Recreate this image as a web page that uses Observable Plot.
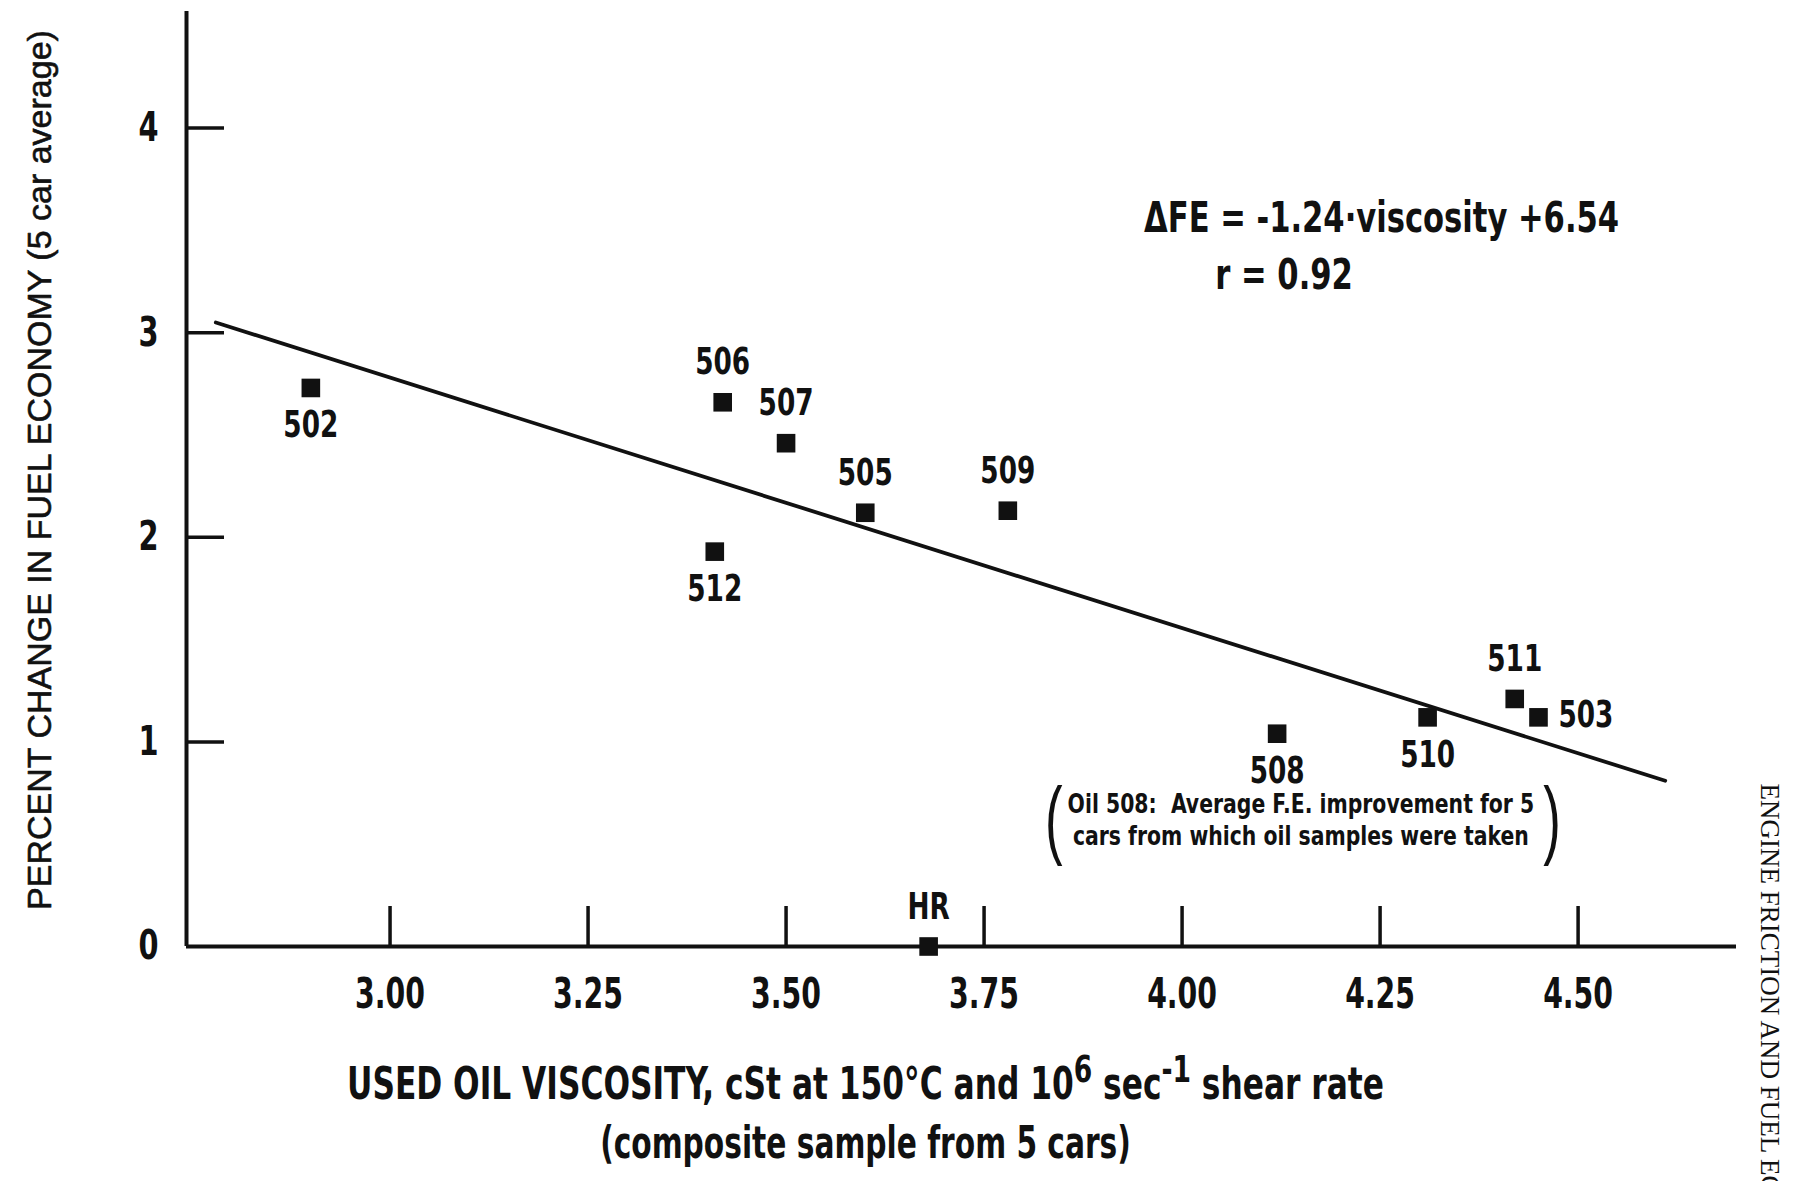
<!DOCTYPE html>
<html><head><meta charset="utf-8">
<script src="https://cdn.jsdelivr.net/npm/d3@7"></script>
<script src="https://cdn.jsdelivr.net/npm/@observablehq/plot@0.6"></script>
<style>
body{margin:0;background:#fff;}
</style></head><body><div id="chart"></div>
<script>
// ---- data ----
const oils      = ["502","506","507","505","509","512","508","510","511","503","HR"];
const viscosity = [2.90, 3.42, 3.50, 3.60, 3.78, 3.41, 4.12, 4.31, 4.42, 4.45, 3.68];
const feChange  = [2.73, 2.66, 2.46, 2.12, 2.13, 1.93, 1.04, 1.12, 1.21, 1.12, 0.00];
const fitX = [2.78, 4.61];
const fitY = [3.05, 0.81];
const xTicks = [3.00, 3.25, 3.50, 3.75, 4.00, 4.25, 4.50];
const xTickLabels = ["3.00","3.25","3.50","3.75","4.00","4.25","4.50"];
const yTicks = [0, 1, 2, 3, 4];
const yTickLabels = ["0","1","2","3","4"];
const xDomain = [2.743, 4.70];
const yDomain = [0, 4.57];
const labelsAbove = ["506","507","505","509","511","HR"];
const labelsBelow = ["502","512","508","510"];
const labelsRight = ["503"];
const eqText = "ΔFE = -1.24·viscosity +6.54";
const rText = "r = 0.92";
const noteLines = ["Oil 508:  Average F.E. improvement for 5", "cars from which oil samples were taken"];
// x title, pieces flagged true are superscripts
const xTitleParts = [["USED OIL VISCOSITY, cSt at 150°C and 10", false], ["6", true], [" sec", false], ["-1", true], [" shear rate", false]];
const xTitle2 = "(composite sample from 5 cars)";
const yTitle = "PERCENT CHANGE IN FUEL ECONOMY (5 car average)";
const sideText = "ENGINE FRICTION AND FUEL EC";

const points = oils.map((o, i) => ({oil: o, x: viscosity[i], y: feChange[i]}));
const fit = fitX.map((x, i) => ({x, y: fitY[i]}));
const xTitle1 = xTitleParts.map(p => p[0]).join("");
const narrow = "'Liberation Sans Narrow', 'DejaVu Sans Condensed', 'Arial Narrow', sans-serif";
const ink = "#111";

const chart = Plot.plot({
  width: 1793,
  height: 1181,
  marginLeft: 186,
  marginRight: 57,
  marginTop: 11,
  marginBottom: 235,
  style: {fontFamily: narrow, background: "#fff", color: ink},
  x: {domain: xDomain},
  y: {domain: yDomain},
  marks: [
    // axis lines
    Plot.ruleY([0], {stroke: ink, strokeWidth: 4}),
    Plot.ruleX([xDomain[0]], {stroke: ink, strokeWidth: 4}),
    // inward ticks
    Plot.axisY({ticks: yTicks.filter(d => d > 0), tickSize: 38, dx: 38, strokeWidth: 3.5, stroke: ink, tickFormat: () => "", label: null}),
    Plot.axisX({ticks: xTicks, tickSize: 40, dy: -40, strokeWidth: 3.5, stroke: ink, tickFormat: () => "", label: null}),
    // tick labels
    Plot.axisY({ticks: yTicks, tickSize: 0, tickPadding: 28, tickFormat: (d) => yTickLabels[yTicks.indexOf(d)], fontSize: 40, fontWeight: "bold", label: null}),
    Plot.axisX({ticks: xTicks, tickSize: 0, tickPadding: 32, tickFormat: (d) => xTickLabels[xTicks.indexOf(d)], fontSize: 42, fontWeight: "bold", label: null}),
    // regression line
    Plot.line(fit, {x: "x", y: "y", stroke: ink, strokeWidth: 3.8}),
    // points
    Plot.dot(points, {x: "x", y: "y", symbol: "square", r: 10.5, fill: ink, stroke: null}),
    // point labels
    Plot.text(points.filter(d => labelsAbove.includes(d.oil)), {x: "x", y: "y", text: "oil", dy: -40, fontSize: 38, fontWeight: "bold", fill: ink}),
    Plot.text(points.filter(d => labelsBelow.includes(d.oil)), {x: "x", y: "y", text: "oil", dy: 37, fontSize: 38, fontWeight: "bold", fill: ink}),
    Plot.text(points.filter(d => labelsRight.includes(d.oil)), {x: "x", y: "y", text: "oil", dx: 20, dy: -3, textAnchor: "start", fontSize: 38, fontWeight: "bold", fill: ink}),
    // equation
    Plot.text([eqText], {x: 3.952, y: 3.56, text: d => d, textAnchor: "start", fontSize: 42, fontWeight: "bold", fill: ink}),
    Plot.text([rText], {x: 4.042, y: 3.28, text: d => d, textAnchor: "start", fontSize: 42, fontWeight: "bold", fill: ink}),
    // note
    Plot.text([noteLines[0]], {x: 4.150, y: 0.693, text: d => d, fontSize: 27, fontWeight: "bold", fill: ink}),
    Plot.text([noteLines[1]], {x: 4.150, y: 0.536, text: d => d, fontSize: 27, fontWeight: "bold", fill: ink}),
    Plot.text(["("], {x: 3.838, y: 0.62, text: d => d, fontSize: 88, fontFamily: "'Liberation Sans', Arial, sans-serif", fill: ink}),
    Plot.text([")"], {x: 4.467, y: 0.62, text: d => d, fontSize: 88, fontFamily: "'Liberation Sans', Arial, sans-serif", fill: ink}),
    // axis titles
    Plot.text([xTitle1], {frameAnchor: "bottom", dx: -96, dy: 152, text: d => d, fontSize: 44, fontWeight: "bold", fill: ink}),
    Plot.text([xTitle2], {frameAnchor: "bottom", dx: -96, dy: 211, text: d => d, fontSize: 44, fontWeight: "bold", fill: ink}),
    Plot.text([yTitle], {frameAnchor: "left", dx: -146, dy: -9, rotate: -90, textAnchor: "middle", text: d => d, fontSize: 34, fontFamily: "'Liberation Sans', Arial, sans-serif", fill: ink, stroke: ink, strokeWidth: 0.6}),
    // side running head
    Plot.text([sideText], {frameAnchor: "top-right", dx: 44, dy: 772, rotate: 90, textAnchor: "start", text: d => d, fontSize: 27, fontFamily: "'Liberation Serif', 'DejaVu Serif', serif", fill: ink})
  ]
});
document.getElementById("chart").appendChild(chart);

// condense text horizontally (the reference uses a condensed typeface)
function squeezeEl(el, k) {
  const t = el.getAttribute("transform");
  if (t) {
    el.setAttribute("transform", t + ` scale(${k},1)`);
  } else {
    const x = +(el.getAttribute("x") || 0), y = +(el.getAttribute("y") || 0);
    el.setAttribute("x", 0); el.setAttribute("y", 0);
    el.setAttribute("transform", `translate(${x},${y}) scale(${k},1)`);
  }
}
const squeezeByText = new Map([
  [eqText, 0.81], [rText, 0.81],
  [noteLines[0], 0.84], [noteLines[1], 0.84],
  ["(", 0.6], [")", 0.6],
  [xTitle2, 0.75], [xTitle1, 0.79]
]);
oils.forEach(o => squeezeByText.set(o, 0.77));
const xAxisLabels = new Set(chart.querySelectorAll('g[aria-label="x-axis tick label"] text'));
const yAxisLabels = new Set(chart.querySelectorAll('g[aria-label="y-axis tick label"] text'));
chart.querySelectorAll("text").forEach(el => {
  if (xAxisLabels.has(el)) return squeezeEl(el, 0.75);
  if (yAxisLabels.has(el)) return squeezeEl(el, 0.8);
  const s = el.textContent;
  if (s === xTitle1) {
    // superscripts in the x title
    el.textContent = "";
    let raised = false;
    xTitleParts.forEach(([part, sup]) => {
      const ts = document.createElementNS("http://www.w3.org/2000/svg", "tspan");
      ts.textContent = part;
      if (sup && !raised) { ts.setAttribute("dy", "-0.45em"); ts.setAttribute("font-size", "0.85em"); raised = true; }
      else if (sup && raised) { ts.setAttribute("font-size", "0.85em"); }
      else if (!sup && raised) { ts.setAttribute("dy", "0.3825em"); raised = false; }
      el.appendChild(ts);
    });
    return squeezeEl(el, squeezeByText.get(xTitle1));
  }
  if (squeezeByText.has(s)) squeezeEl(el, squeezeByText.get(s));
});
</script>
</body></html>
